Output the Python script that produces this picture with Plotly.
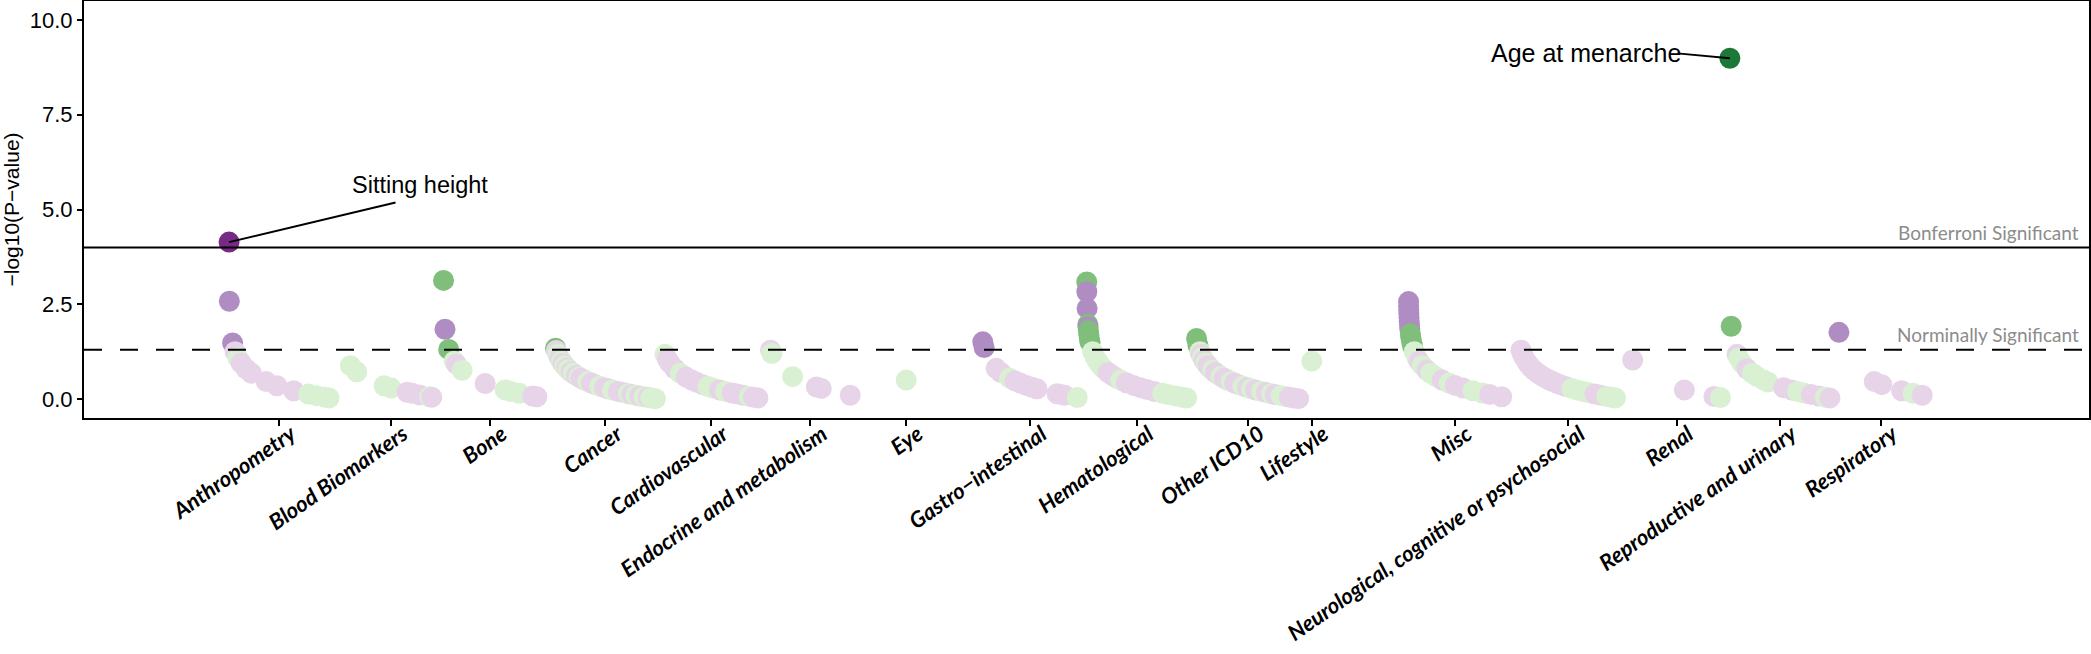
import plotly.graph_objects as go

# phenotype categories, in plotting order
categories = [
    "Anthropometry", "Blood Biomarkers", "Bone", "Cancer", "Cardiovascular",
    "Endocrine and metabolism", "Eye", "Gastro\u2212intestinal", "Hematological",
    "Other ICD10", "Lifestyle", "Misc", "Neurological, cognitive or psychosocial",
    "Renal", "Reproductive and urinary", "Respiratory",
]

# -log10(P) per phenotype, sorted within each category
# direction: P = negative effect (purple), G = positive effect (green)
logp_anthropometry = [4.14, 2.58, 1.48, 1.25, 1.08, 0.95, 0.80, 0.68, 0.46, 0.35, 0.22, 0.13, 0.09, 0.05, 0.03]
dir_anthropometry = "PPPPGPPPPPPGGGG"
logp_blood = [0.88, 0.72, 0.35, 0.29, 0.18, 0.15, 0.11, 0.06, 0.05]
dir_blood = "GGGGPPPGP"
logp_bone = [3.13, 1.84, 1.31, 1.00, 0.92, 0.76, 0.41, 0.24, 0.20, 0.15, 0.08, 0.06]
dir_bone = "GPGGPGPGGGPP"
logp_cancer = [1.34, 1.28, 1.18, 1.08, 1.00, 0.94, 0.88, 0.82, 0.78, 0.72, 0.68, 0.62, 0.58, 0.55, 0.50, 0.46, 0.42,
               0.38, 0.34, 0.30, 0.27, 0.24, 0.20, 0.17, 0.14, 0.12, 0.10, 0.08, 0.06, 0.04, 0.03, 0.02, 0.01]
dir_cancer = "GPGPGPGPGPGPGPPGPPGPPGPPGPGPGPGGG"
logp_cardio = [1.18, 1.05, 0.94, 0.80, 0.68, 0.58, 0.50, 0.44, 0.38, 0.33, 0.29, 0.24, 0.20, 0.16, 0.13, 0.10, 0.07, 0.05, 0.03]
dir_cardio = "GPPPGPPPPGGPGPPPGPP"
logp_endocrine = [1.29, 1.20, 0.59, 0.32, 0.28, 0.10]
dir_endocrine = "PGGPPP"
logp_eye = [0.50]
dir_eye = "G"
logp_gastro = [1.51, 1.36, 0.81, 0.70, 0.55, 0.48, 0.42, 0.36, 0.31, 0.27, 0.14, 0.12, 0.10, 0.04]
dir_gastro = "PPPPGPPPPPPPPG"
logp_hemat = [3.09, 2.83, 2.39, 1.97, 1.90, 1.80, 1.69, 1.60, 1.50, 1.25, 1.10, 1.00, 0.90, 0.82,
              0.70, 0.62, 0.55, 0.50, 0.43, 0.36, 0.30, 0.25, 0.20, 0.15, 0.12, 0.08, 0.05, 0.03]
dir_hemat = "GPPGPGGGGGGGGGPPPGPPPPPGGGGG"
logp_icd10 = [1.60, 1.42, 1.25, 1.18, 1.10, 1.02, 0.95, 0.88, 0.82, 0.76, 0.70, 0.65, 0.60, 0.55, 0.50, 0.46,
              0.42, 0.38, 0.34, 0.30, 0.27, 0.24, 0.20, 0.17, 0.14, 0.12, 0.09, 0.07, 0.05, 0.03, 0.01]
dir_icd10 = "GGGPGPGPPGPPGPPGPPGPGPGPGPGGPPP"
logp_lifestyle = [1.00]
dir_lifestyle = "G"
logp_misc = [2.57, 2.45, 2.35, 2.25, 2.15, 2.05, 1.95, 1.85, 1.72, 1.62, 1.50, 1.40, 1.25, 1.08,
             1.00, 0.88, 0.76, 0.68, 0.59, 0.50, 0.42, 0.36, 0.29, 0.22, 0.16, 0.12, 0.06]
dir_misc = "PPPPPPPPGGGGGGPGPGGPGPPGGPP"
logp_neuro = [1.29, 1.20, 1.11, 0.95, 0.85, 0.76, 0.68, 0.60, 0.55, 0.50, 0.46, 0.42, 0.38, 0.33,
              0.28, 0.24, 0.20, 0.17, 0.13, 0.10, 0.07, 0.05, 0.03]
dir_neuro = "PPPPPPPPPPPPPPGGGGPPGGG"
logp_renal = [1.03, 0.24, 0.07, 0.04]
dir_renal = "PPPG"
logp_repro = [8.99, 1.92, 1.18, 1.08, 0.94, 0.80, 0.68, 0.60, 0.50, 0.45, 0.30, 0.24, 0.20, 0.16, 0.12, 0.08, 0.05, 0.03]
dir_repro = "GGPGGPGGGGPPGGPPGP"
logp_resp = [1.76, 0.46, 0.38, 0.22, 0.15, 0.10]
dir_resp = "PPPPGP"

all_logp = [logp_anthropometry, logp_blood, logp_bone, logp_cancer, logp_cardio, logp_endocrine,
            logp_eye, logp_gastro, logp_hemat, logp_icd10, logp_lifestyle, logp_misc, logp_neuro,
            logp_renal, logp_repro, logp_resp]
all_dirs = [dir_anthropometry, dir_blood, dir_bone, dir_cancer, dir_cardio, dir_endocrine,
            dir_eye, dir_gastro, dir_hemat, dir_icd10, dir_lifestyle, dir_misc, dir_neuro,
            dir_renal, dir_repro, dir_resp]

bonferroni = 4.0
nominal = 1.30103  # -log10(0.05)

# PRGn shades: [not significant, nominal, bonferroni]
palette = {
    "P": ["#E7D4E8", "#AF8DC3", "#762A83"],
    "G": ["#D9F0D3", "#7FBF7B", "#1B7837"],
}


def point_color(lp, d):
    if lp > bonferroni:
        return palette[d][2]
    if lp > nominal:
        return palette[d][1]
    return palette[d][0]


fig = go.Figure()
tick_vals = []
for k, (name, lps, dirs) in enumerate(zip(categories, all_logp, all_dirs)):
    # position inside a category follows the raw P-value
    xs = [k + 10 ** (-lp) for lp in lps]
    cols = [point_color(lp, d) for lp, d in zip(lps, dirs)]
    tick_vals.append((min(xs) + max(xs)) / 2)
    fig.add_trace(go.Scatter(
        x=xs, y=lps, mode="markers", name=name,
        marker=dict(size=21, color=cols, line=dict(width=0), opacity=1),
        hovertemplate=name + "<br>-log10(P)=%{y:.2f}<extra></extra>",
        showlegend=False,
    ))

# threshold lines
fig.add_shape(type="line", xref="paper", x0=0, x1=1, y0=bonferroni, y1=bonferroni,
              line=dict(color="black", width=2))
fig.add_shape(type="line", xref="paper", x0=0, x1=1, y0=nominal, y1=nominal,
              line=dict(color="black", width=2, dash="18px,18px"))

label_font = dict(family="Lato, Carlito, sans-serif", size=19, color="#8c8c8c")
fig.add_annotation(xref="paper", x=0.996, y=4.40, text="Bonferroni Significant", showarrow=False,
                   xanchor="right", yanchor="middle", font=label_font)
fig.add_annotation(xref="paper", x=0.996, y=1.69, text="Norminally Significant", showarrow=False,
                   xanchor="right", yanchor="middle", font=label_font)

# labelled top hits
sit_x, sit_y = 0 + 10 ** (-logp_anthropometry[0]), logp_anthropometry[0]
men_x, men_y = 14 + 10 ** (-logp_repro[0]), logp_repro[0]
fig.add_annotation(x=sit_x, y=sit_y, text="", showarrow=True, arrowhead=0, arrowwidth=2,
                   arrowcolor="black", ax=168, ay=-40)
fig.add_annotation(x=sit_x, y=sit_y, text="Sitting height", showarrow=False,
                   xshift=191, yshift=57,
                   font=dict(family="Liberation Sans, Arial, sans-serif", size=23.5, color="black"))
fig.add_annotation(x=men_x, y=men_y, text="", showarrow=True, arrowhead=0, arrowwidth=2,
                   arrowcolor="black", ax=-54, ay=-5)
fig.add_annotation(x=men_x, y=men_y, text="Age at menarche", showarrow=False,
                   xanchor="right", xshift=-47, yshift=5,
                   font=dict(family="Liberation Sans, Arial, sans-serif", size=25, color="black"))

fig.update_layout(
    width=2091, height=654,
    margin=dict(l=84, r=2, t=1, b=236),
    plot_bgcolor="white", paper_bgcolor="white",
    showlegend=False,
)
fig.update_xaxes(
    range=[-1.353, 17.35], tickvals=tick_vals, ticktext=categories,
    tickangle=-35, ticks="outside", ticklen=6, tickwidth=1.5, tickcolor="black",
    tickfont=dict(family="Lato, sans-serif", size=22, color="black", weight="bold", style="italic"),
    ticklabelstandoff=-13, ticklabelshift=12,
    showline=True, mirror=True, linecolor="black", linewidth=2,
    showgrid=False, zeroline=False, automargin=False,
)
fig.update_yaxes(
    range=[-0.5, 10.5], tickvals=[0, 2.5, 5, 7.5, 10], ticktext=["0.0", "2.5", "5.0", "7.5", "10.0"],
    ticks="outside", ticklen=5, tickwidth=1.5, tickcolor="black",
    tickfont=dict(family="Liberation Sans, Arial, sans-serif", size=22, color="black"),
    title=dict(text="\u2212log10(P\u2212value)", standoff=8,
               font=dict(family="Liberation Sans, Arial, sans-serif", size=21, color="black")),
    showline=True, mirror=True, linecolor="black", linewidth=2,
    showgrid=False, zeroline=False, automargin=False,
)

# drop the default page margin so the figure sits at the window's corner
fig.write_html("out.html", config={"displayModeBar": False},
               post_script="document.body.style.margin='0px';")
